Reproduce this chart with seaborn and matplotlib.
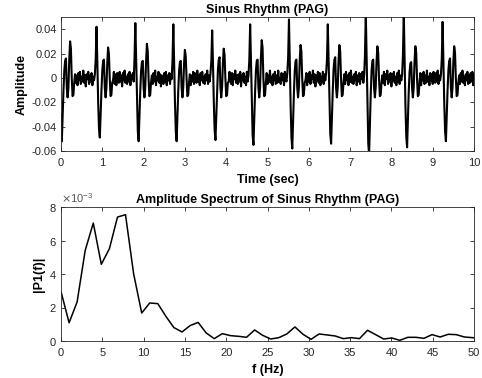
import numpy as np
import pandas as pd
import seaborn as sns
import matplotlib
matplotlib.use("Agg")
import matplotlib.pyplot as plt
from matplotlib.ticker import ScalarFormatter

# ---------------- data ----------------
# ECG amplitude (units of 1e-3), sampled every 0.02 s, one list per second
sec0 = [-30, -52, -31, -10, 6, 14, 16, -8, -16, -8, 15, 30, 24, 0, -15, -14, -4,
        3, -4, 2, -6, 4, -2, 5, -5, 1, -3, 6, -4, 2, -7, 3, -1, 5, -5, 2, -3, 4, -6, 1, -2, 3,
        15, 42, 13, -20, -42, -49, -29, -10]
sec1 = [6, 14, 15, -8, -16, -8, 12, 25, 20, 0, -15, -14, -4,
        -2, 5, -5, 3, -6, 4, -1, -4, 5, -3, 2, -7, 4, -2, 6, -4, 1, -5, 3, -3, 5, -6, 2, -1, 4, -3,
        16, 45, 14, -21, -44, -52, -31, -10, 6, 13, 14]
sec2 = [-8, -16, -8, 14, 28, 22, 0, -15, -14, -4,
        2, -5, 4, -3, 6, -6, 1, -2, 5, -4, 3, -7, 2, 0, -5, 4, -3, 5, -6, 2, -2, 4, -5, 3, -1,
        15, 44, 13, -21, -44, -52, -31, -10, 6, 13, 14, -8, -16, -8, 12]
sec3 = [23, 18, 0, -15, -14, -4,
        3, -6, 2, -3, 5, -5, 4, -1, -4, 6, -3, 2, -6, 4, -2, 5, -4, 1, -5, 3, -2, 6, -5, 2, -3, 4,
        14, 39, 12, -20, -43, -51, -31, -10, 7, 15, 17, -8, -16, -8, 12, 24, 19, 0]
sec4 = [-15, -14, -4,
        -3, 5, -2, -5, 4, -6, 3, -1, 6, -4, 2, -5, 3, -3, 5, -7, 2, -2, 4, -4, 1, -6, 5, -3, 2,
        15, 44, 13, -22, -47, -55, -33, -11, 6, 14, 15, -8, -16, -8, 16, 31, 25, 0, -15, -14, -4,
        4]
sec5 = [-5, 2, -3, 6, -4, 1, -6, 3, -2, 5, -5, 2, -4, 6, -3, 0, -5, 4, -2, 3, -6, 5, -1, -3, 4,
        17, 48, 14, -23, -49, -58, -35, -12, 6, 14, 15, -8, -16, -8, 14, 27, 22, 0, -15, -14, -4,
        -2, 4, -6, 3]
sec6 = [-3, 5, -5, 2, -1, 6, -4, 3, -7, 2, -2, 5, -4, 4, -6, 1, -3, 5, -5, 3, -2, 4,
        15, 44, 13, -22, -46, -54, -32, -11, 7, 15, 17, -8, -16, -8, 14, 27, 22, 0, -15, -14, -4,
        3, -5, 5, -2, 2, -6, 4]
sec7 = [-3, 6, -4, 1, -5, 3, -2, 5, -6, 2, -3, 4, -5, 3, -1, 5, -4, 2,
        19, 53, 16, -25, -54, -63, -38, -13, 6, 14, 15, -8, -16, -8, 13, 26, 21, 0, -15, -14, -4,
        2, -4, 5, -6, 3, -1, 6, -5, 2, -3, 4]
sec8 = [-7, 3, -2, 5, -4, 1, -6, 4, -3, 6, -5, 2, -2, 3,
        19, 53, 16, -23, -48, -57, -34, -11, 5, 12, 13, -8, -16, -8, 13, 26, 21, 0, -15, -14, -4,
        4, -6, 3, -2, 5, -5, 2, -4, 6, -3, 1, -6, 4, -2, 3]
sec9 = [-5, 5, -1, -4, 4, -3, 6, -5, 2, -2, 3,
        16, 46, 14, -21, -44, -52, -31, -10, 6, 14, 16, -8, -16, -8, 13, 26, 21, 0, -15, -14, -4,
        2, -5, 4, -3, 6, -4, 1, -6, 3, -2, 5, -5, 2, -4, 4, -3, 5, -6, 3]
sample_step_s = 0.02

# single-sided amplitude spectrum (units of 1e-3)
freq_hz = [0.00, 0.98, 1.95, 2.93, 3.91, 4.88, 5.86, 6.84, 7.81, 8.79, 9.77,
           10.74, 11.72, 12.70, 13.67, 14.65, 15.63, 16.60, 17.58, 18.55, 19.53,
           20.51, 21.48, 22.46, 23.44, 24.41, 25.39, 26.37, 27.34, 28.32, 29.30,
           30.27, 31.25, 32.23, 33.20, 34.18, 35.16, 36.13, 37.11, 38.09, 39.06,
           40.04, 41.02, 41.99, 42.97, 43.95, 44.92, 45.90, 46.88, 47.85, 48.83,
           49.80, 50.78]
p1_milli = [2.95, 1.09, 2.33, 5.41, 7.04, 4.58, 5.51, 7.40, 7.54, 4.02, 1.67,
            2.27, 2.23, 1.47, 0.80, 0.54, 0.92, 1.11, 0.48, 0.14, 0.44,
            0.32, 0.28, 0.22, 0.66, 0.34, 0.12, 0.20, 0.42, 0.84, 0.40,
            0.10, 0.42, 0.36, 0.30, 0.14, 0.20, 0.14, 0.64, 0.38, 0.12,
            0.18, 0.04, 0.22, 0.22, 0.16, 0.38, 0.24, 0.40, 0.38, 0.24,
            0.20, 0.18]

# ---------------- build frames ----------------
amp = np.array(sec0 + sec1 + sec2 + sec3 + sec4 + sec5 + sec6 + sec7 + sec8 + sec9) * 1e-3
ecg = pd.DataFrame({"t": np.arange(len(amp)) * sample_step_s, "a": amp})
spec = pd.DataFrame({"f": freq_hz, "p": np.array(p1_milli) * 1e-3})

# ---------------- style ----------------
sns.set_theme(style="white")
plt.rcParams["font.family"] = ["Liberation Sans", "DejaVu Sans"]
plt.rcParams["axes.unicode_minus"] = False

edge = "#262626"
fig = plt.figure(figsize=(4.82, 3.78), dpi=100)
ax1 = fig.add_axes([61 / 482, 1 - 151 / 378, 413 / 482, 134 / 378])
ax2 = fig.add_axes([61 / 482, 1 - 341 / 378, 413 / 482, 134 / 378])

sns.lineplot(data=ecg, x="t", y="a", ax=ax1, color="black", linewidth=1.5,
             estimator=None, sort=False)
sns.lineplot(data=spec, x="f", y="p", ax=ax2, color="black", linewidth=1.1,
             estimator=None, sort=False)

ax1.set_xlim(0, 10)
ax1.set_ylim(-0.06, 0.05)
ax1.set_xticks(np.arange(0, 11, 1))
ax1.set_yticks([-0.06, -0.04, -0.02, 0, 0.02, 0.04])
ax1.set_yticklabels(["-0.06", "-0.04", "-0.02", "0", "0.02", "0.04"])
ax1.set_title("Sinus Rhythm (PAG)", fontsize=9, fontweight="bold", pad=3, color="black")
ax1.set_xlabel("Time (sec)", fontsize=9, fontweight="bold", labelpad=4, color="black")
ax1.set_ylabel("Amplitude", fontsize=9, fontweight="bold", labelpad=3, color="black")

ax2.set_xlim(0, 50)
ax2.set_ylim(0, 0.008)
ax2.set_xticks(np.arange(0, 51, 5))
ax2.set_yticks([0, 0.002, 0.004, 0.006, 0.008])
fmt = ScalarFormatter(useMathText=True)
fmt.set_powerlimits((-2, 2))
ax2.yaxis.set_major_formatter(fmt)
ax2.set_title("Amplitude Spectrum of Sinus Rhythm (PAG)", fontsize=9,
              fontweight="bold", pad=3, color="black")
ax2.set_xlabel("f (Hz)", fontsize=9, fontweight="bold", labelpad=4, color="black")
ax2.set_ylabel("|P1(f)|", fontsize=9, fontweight="bold", labelpad=3, color="black")

for ax in (ax1, ax2):
    for s in ax.spines.values():
        s.set_visible(True)
        s.set_color(edge)
        s.set_linewidth(0.6)
    ax.tick_params(direction="in", length=3, width=0.6, colors=edge,
                   labelsize=8, labelcolor=edge, top=True, right=True,
                   bottom=True, left=True)
    ax.tick_params(axis="x", pad=5)
    ax.tick_params(axis="y", pad=3)
    ax.grid(False)
    ax.set_facecolor("white")

ax2.yaxis.get_offset_text().set_fontsize(8)
ax2.yaxis.get_offset_text().set_color("#555555")

fig.savefig("out.png", dpi=100, facecolor="white")
